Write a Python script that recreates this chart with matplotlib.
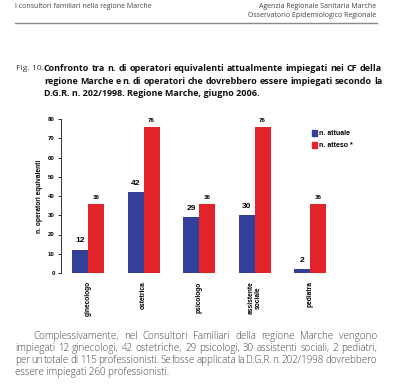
import matplotlib
matplotlib.use("Agg")
import matplotlib.pyplot as plt
from matplotlib.patches import Patch
import numpy as np

categories = ["ginecologo", "ostetrica", "psicologo", "assistente\nsociale", "pediatra"]
attuale = [12, 42, 29, 30, 2]
atteso = [36, 76, 36, 76, 36]
series_names = ["n. attuale", "n. atteso *"]
yticks = [0, 10, 20, 30, 40, 50, 60, 70, 80]

header_left = "I consultori familiari nella regione Marche"
header_right = ["Agenzia Regionale Sanitaria Marche", "Osservatorio Epidemiologico Regionale"]
caption_lines = [
    "Confronto tra n. di operatori equivalenti attualmente impiegati nei CF della",
    "regione Marche e n. di operatori che dovrebbero essere impiegati secondo la",
    "D.G.R. n. 202/1998. Regione Marche, giugno 2006.",
]
body_lines = [
    "Complessivamente, nel Consultori Familiari della regione Marche vengono",
    "impiegati 12 ginecologi, 42 ostetriche, 29 psicologi, 30 assistenti sociali, 2 pediatri,",
    "per un totale di 115 professionisti. Se fosse applicata la D.G.R. n. 202/1998 dovrebbero",
    "essere impiegati 260 professionisti.",
]

W, H = 396, 386
fig = plt.figure(figsize=(W / 100, H / 100), dpi=100)
fig.patch.set_facecolor("white")

BLUE = "#33409a"
RED = "#e3232a"

def fx(px):
    return px / W

def fy(py):
    return 1 - py / H

renderer = fig.canvas.get_renderer()

def put_line(text, x0, x1, y, justify=True, **kw):
    if not justify:
        fig.text(fx(x0), fy(y), text, va="center", ha="left", **kw)
        return
    words = text.split(" ")
    objs = []
    widths = []
    for w in words:
        t = fig.text(0, fy(y), w, va="center", ha="left", **kw)
        bb = t.get_window_extent(renderer=renderer)
        objs.append(t)
        widths.append(bb.width)
    total = sum(widths)
    gap = max((x1 - x0 - total) / (len(words) - 1), 1.2)
    x = x0
    for t, wd in zip(objs, widths):
        t.set_x(fx(x))
        x += wd + gap

# header
hdr_kw = dict(fontsize=5.0, color="#444444", family="Open Sans")
fig.text(fx(15), fy(6.5), header_left, va="center", ha="left", **hdr_kw)
fig.text(fx(376), fy(6.5), header_right[0], va="center", ha="right", **hdr_kw)
fig.text(fx(376), fy(15.5), header_right[1], va="center", ha="right", **hdr_kw)
fig.add_artist(plt.Line2D([fx(15), fx(377)], [fy(23), fy(23)], color="#8a8a8a", lw=1.0))

# caption
cap_kw = dict(fontsize=6.45, color="#111111", family="Open Sans", fontweight="bold")
fig.text(fx(15.5), fy(68.5), "Fig. 10.", va="center", ha="left", fontsize=6.1,
         color="#333333", family="Open Sans")
put_line(caption_lines[0], 44, 382, 68.5, True, **cap_kw)
put_line(caption_lines[1], 44, 382, 81, True, **cap_kw)
put_line(caption_lines[2], 44, 382, 93, False, **cap_kw)

# body
body_kw = dict(fontsize=7.0, color="#444444", family="Open Sans", fontweight="light")
put_line(body_lines[0], 33, 377, 336.5, True, **body_kw)
put_line(body_lines[1], 15, 377, 348.5, True, **body_kw)
put_line(body_lines[2], 15, 377, 360.5, True, **body_kw)
put_line(body_lines[3], 15, 377, 372.5, False, **body_kw)

# chart
ax = fig.add_axes([fx(61), fy(273), fx(338) - fx(61), fy(119) - fy(273)])
x = np.arange(len(categories))
bw = 0.285
ax.bar(x - bw / 2, attuale, bw, color=BLUE, label=series_names[0])
ax.bar(x + bw / 2, atteso, bw, color=RED, label=series_names[1])
ax.set_ylim(0, 80)
ax.set_xlim(-0.49, 4.5)
ax.set_yticks(yticks)
ax.set_yticklabels([str(v) for v in yticks], fontsize=4.3, fontweight="bold",
                   family="Liberation Sans")
ax.set_xticks(x)
ax.set_xticklabels(categories, rotation=90, fontsize=4.8, fontweight="bold",
                   family="Liberation Sans", va="top", ha="center", linespacing=0.9)
ax.tick_params(axis="x", length=0, pad=6)
ax.tick_params(axis="y", length=2.5, width=0.7, pad=2, color="#333333")
for s in ["top", "right", "bottom"]:
    ax.spines[s].set_visible(False)
ax.spines["left"].set_linewidth(0.7)
ax.spines["left"].set_color("#333333")
ax.set_ylabel("n. operatori equivalenti", fontsize=4.8, fontweight="bold",
              family="Liberation Sans", labelpad=6)
ax.yaxis.set_label_coords(-0.065, 0.5)

for xi, v in zip(x, attuale):
    ax.annotate(str(v), (xi - bw / 2, v), xytext=(0, 4), textcoords="offset points",
                ha="center", va="bottom", fontsize=6.0, fontweight="bold",
                family="Liberation Sans")
for xi, v in zip(x, atteso):
    ax.annotate(str(v), (xi + bw / 2, v), xytext=(0, 2.5), textcoords="offset points",
                ha="center", va="bottom", fontsize=4.4, fontweight="bold",
                family="Liberation Sans")

ax.legend(handles=[Patch(color=BLUE), Patch(color=RED)], labels=series_names,
          loc="upper left", bbox_to_anchor=(fx(312), fy(130)), bbox_transform=fig.transFigure,
          frameon=False, prop={"family": "Liberation Sans", "weight": "bold", "size": 5},
          handlelength=0.75, handleheight=0.9, handletextpad=0.3, labelspacing=0.7,
          borderaxespad=0, borderpad=0)

fig.savefig("out.png", dpi=100, facecolor="white")
